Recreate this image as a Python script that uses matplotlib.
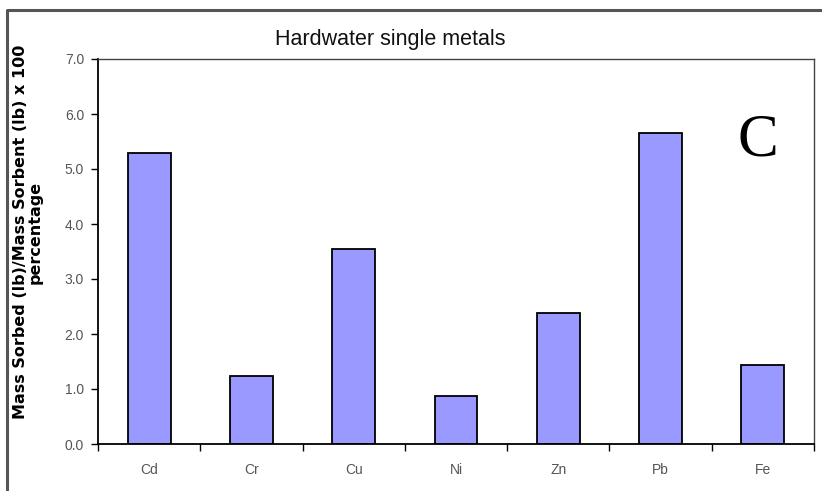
import matplotlib
matplotlib.use("Agg")
import matplotlib.pyplot as plt
from matplotlib.lines import Line2D

metals = ["Cd", "Cr", "Cu", "Ni", "Zn", "Pb", "Fe"]
sorbed = [5.30, 1.24, 3.54, 0.87, 2.38, 5.66, 1.43]
y_ticks = [0.0, 1.0, 2.0, 3.0, 4.0, 5.0, 6.0, 7.0]

plt.rcParams['font.family'] = ['Liberation Sans', 'DejaVu Sans']

fig = plt.figure(figsize=(8.22, 4.91), dpi=100)
ax = fig.add_axes([98 / 822, 47 / 491, 716 / 822, 385 / 491])

x = range(len(metals))
ax.bar(x, sorbed, width=0.42, color="#9999ff", edgecolor="black", linewidth=1.3)

ax.set_xlim(-0.5, len(metals) - 0.5)
ax.set_ylim(0, 7)
ax.set_yticks(y_ticks)
ax.set_yticklabels([f"{v:.1f}" for v in y_ticks])
ax.set_xticks(list(x))
ax.set_xticklabels(metals)
ax.set_xticks([i - 0.5 for i in range(len(metals) + 1)], minor=True)

ax.tick_params(axis="y", direction="out", length=5, width=1, colors="black",
               labelcolor="#555555", labelsize=10, pad=5)
ax.tick_params(axis="x", which="major", length=0, labelcolor="#555555",
               labelsize=10, pad=14)
ax.tick_params(axis="x", which="minor", direction="out", length=5, width=1)

for side in ["left", "bottom"]:
    ax.spines[side].set_color("black")
    ax.spines[side].set_linewidth(1.3)
for side in ["top", "right"]:
    ax.spines[side].set_color("#444444")
    ax.spines[side].set_linewidth(1.0)

fig.text(390 / 822, 1 - 39 / 491, "Hardwater single metals", ha="center",
         va="center", fontsize=15.5, color="#111111")

ax.set_ylabel("Mass Sorbed (lb)/Mass Sorbent (lb) x 100\npercentage",
              fontfamily="DejaVu Sans", fontweight="bold", fontsize=11.5,
              linespacing=0.95, multialignment="center")
ax.yaxis.set_label_coords(-0.077, 0.55)

ax.text(0.922, 0.787, "C", transform=ax.transAxes, ha="center", va="center",
        fontsize=44, fontfamily="Liberation Serif", color="black")

# outer frame of the original figure
fx = 7 / 822
fy = 1 - 10 / 491
fig.add_artist(Line2D([fx, fx, 1.0], [0.0, fy, fy], transform=fig.transFigure,
                      color="#555555", linewidth=2.2))

fig.savefig("out.png", dpi=100)
